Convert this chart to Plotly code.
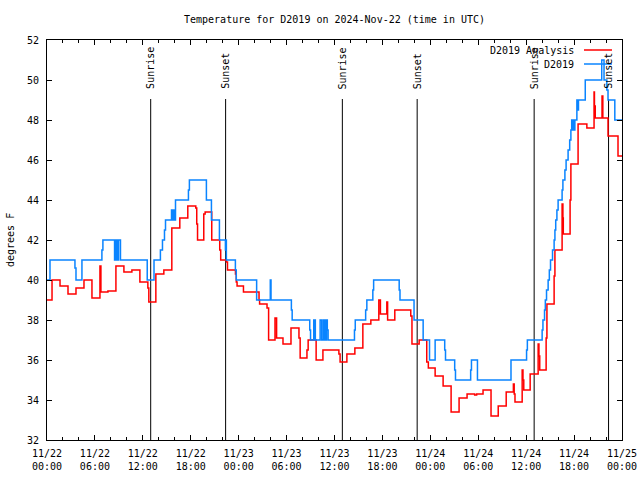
import pandas as pd
import plotly.graph_objects as go

# ---------------- data ----------------
base = pd.Timestamp("2024-11-22 00:00")

# D2019 observations (hours since 11/22 00:00 UTC, degrees F)
obs_hours = [0.0, 0.375, 3.5, 3.63, 4.375, 6.875, 7.0, 8.46, 8.63, 8.8, 8.96, 9.2,
             12.55, 13.4, 14.2, 14.46, 14.71, 14.84, 15.59, 15.7, 15.8, 15.9, 16.09,
             17.71, 17.83, 19.96, 20.59, 21.59, 22.34, 22.4, 22.46, 23.59, 23.7,
             26.25, 27.96, 28.05, 30.6, 30.7, 32.9, 33.0, 33.4, 33.5, 33.55, 33.6,
             34.2, 34.4, 34.6, 34.7, 34.8, 34.9, 35.0, 35.1, 35.2,
             38.5, 38.6, 39.9, 40.05, 40.8, 40.9, 44.1, 44.2, 45.96, 47.1, 47.9,
             48.6, 49.8, 49.9, 51.05, 51.15, 53.05, 53.15, 53.9, 58.1, 60.05, 60.15,
             62.0, 62.1, 62.3, 62.4, 62.55, 62.75, 62.9, 63.05, 63.3, 63.5, 63.6,
             63.7, 63.85, 64.0, 64.5, 64.6, 64.85, 65.0, 65.25, 65.45, 65.6, 65.7,
             65.8, 65.9, 66.0, 66.1, 66.35, 66.45, 66.55, 67.4, 69.46, 69.75, 70.1,
             70.25, 71.1, 72.0]
obs_temps = [40, 41, 40.6, 40, 41, 41.5, 42, 41, 42, 41, 42, 41,
             40, 41, 41.5, 42, 42.5, 43, 43.5, 43, 43.5, 43, 44,
             44.5, 45, 44, 43, 42, 41.5, 42, 41, 40.5, 40,
             39, 40, 39, 38.5, 38, 37.5, 37, 38, 37, 38, 37,
             38, 37, 38, 37, 38, 37, 38, 37.5, 37,
             37.5, 38, 38.5, 39, 39.5, 40, 39.5, 39, 38, 37, 36,
             37, 36.5, 36, 35.5, 35, 35.5, 36, 35, 36, 36.5, 37,
             37.5, 38, 38.5, 39, 39.5, 40, 40.5, 41, 41.5, 42, 42.5,
             43, 43.5, 44, 44.5, 45, 45.5, 46, 46.5, 47, 47.5, 48,
             47.5, 48, 47.5, 48, 49, 48.5, 49, 50, 51, 50, 49.5,
             49, 48, 48]

# D2019 Analysis (hours since 11/22 00:00 UTC, degrees F)
ana_hours = [0.0, 0.63, 1.63, 2.63, 3.63, 4.63, 5.63, 6.63, 6.75, 7.63, 8.63, 9.63,
             10.63, 11.63, 12.63, 12.75, 13.63, 14.63, 15.63, 16.63, 17.63, 18.63,
             18.75, 18.85, 19.63, 19.8, 20.63, 21.63, 21.75, 22.46, 22.6, 23.6, 23.7,
             23.8, 24.6, 26.55, 26.62, 27.55, 27.75, 28.55, 28.75, 29.55, 30.55,
             31.55, 31.7, 32.55, 32.7, 33.7, 34.55, 36.55, 36.7, 37.55, 38.55,
             39.55, 40.55, 41.55, 41.75, 42.55, 42.65, 43.55, 45.55, 45.7, 46.6,
             47.55, 47.75, 48.6, 49.6, 50.6, 51.6, 52.6, 53.55, 53.8, 54.6, 55.6,
             56.5, 57.5, 58.4, 58.5, 58.6, 59.5, 59.6, 59.7, 60.5, 61.5, 61.6,
             61.7, 62.5, 62.6, 63.5, 63.6, 64.5, 64.6, 64.65, 65.5, 65.6, 66.5,
             67.6, 68.5, 68.55, 68.65, 69.5, 69.6, 70.25, 71.5, 72.0]
ana_temps = [39.0, 40.0, 39.7, 39.3, 39.6, 40.0, 39.1, 40.7, 39.4, 39.45, 40.7, 40.4,
             40.5, 39.9, 39.6, 38.9, 40.3, 40.5, 42.6, 43.1, 43.7, 43.6,
             42.8, 42.0, 43.3, 43.4, 42.0, 41.5, 41.0, 40.9, 40.5, 40.3, 39.9,
             39.7, 39.4, 39.0, 38.8, 38.6, 37.0, 38.1, 37.1, 36.8, 37.6,
             37.1, 36.1, 36.5, 37.0, 36.0, 36.5, 36.3, 35.9, 36.3, 36.6,
             37.8, 38.0, 39.0, 38.3, 38.9, 38.0, 38.5, 38.2, 36.8, 37.0,
             35.9, 35.6, 35.2, 34.7, 33.4, 34.1, 34.3, 34.25, 34.3, 34.5, 33.2,
             33.7, 34.4, 34.8, 34.3, 33.9, 35.5, 35.0, 34.5, 35.3, 36.8, 36.2,
             35.5, 37.1, 38.8, 40.2, 41.5, 43.8, 43.1, 42.3, 44.0, 45.8, 47.8,
             47.6, 49.4, 48.7, 48.1, 49.2, 48.1, 47.2, 46.2, 46.2]

sun_labels = ["Sunrise", "Sunset", "Sunrise", "Sunset", "Sunrise", "Sunset"]
sun_times = ["2024-11-22 12:59", "2024-11-22 22:22", "2024-11-23 12:59",
             "2024-11-23 22:21", "2024-11-24 13:00", "2024-11-24 22:19"]

tick_times = pd.date_range("2024-11-22 00:00", "2024-11-25 00:00", freq="6h")
tick_text = [t.strftime("%m/%d") + "<br>" + t.strftime("%H:%M") for t in tick_times]
y_ticks = list(range(32, 53, 2))

title_text = "Temperature for D2019 on 2024-Nov-22 (time in UTC)"
legend_names = ["D2019 Analysis", "D2019"]
colors = ["#ff0000", "#0a84ff"]

# ---------------- figure ----------------
FONT = "DejaVu Sans Mono"
ana_x = base + pd.to_timedelta(ana_hours, unit="h")
obs_x = base + pd.to_timedelta(obs_hours, unit="h")

fig = go.Figure()
fig.add_trace(go.Scatter(x=ana_x, y=ana_temps, mode="lines", line_shape="hv",
                         line=dict(color=colors[0], width=1.5), name=legend_names[0]))
fig.add_trace(go.Scatter(x=obs_x, y=obs_temps, mode="lines", line_shape="hv",
                         line=dict(color=colors[1], width=1.5), name=legend_names[1]))

shapes = []
annotations = []
for lab, t in zip(sun_labels, sun_times):
    shapes.append(dict(type="line", xref="x", yref="paper", x0=t, x1=t, y0=0, y1=0.8525,
                       line=dict(color="black", width=1), layer="below"))
    annotations.append(dict(xref="x", yref="paper", x=t, y=0.872, text=lab, textangle=-90,
                            showarrow=False, xanchor="center", yanchor="bottom",
                            font=dict(family=FONT, size=10, color="black")))

# legend (gnuplot style: text then sample line on the right)
leg_y = [0.975, 0.94]
for name, c, yy in zip(legend_names, colors, leg_y):
    annotations.append(dict(xref="paper", yref="paper", x=0.92, y=yy, text=name,
                            showarrow=False, xanchor="right", yanchor="middle",
                            font=dict(family=FONT, size=10, color="black")))
    shapes.append(dict(type="line", xref="paper", yref="paper", x0=0.9339, x1=0.9826,
                       y0=yy, y1=yy, line=dict(color=c, width=1.5)))

annotations.append(dict(xref="paper", yref="paper", x=-0.0643, y=0.5, text="degrees F",
                        textangle=-90, showarrow=False, xanchor="center", yanchor="middle",
                        font=dict(family=FONT, size=10, color="black")))

fig.update_layout(
    width=640, height=480,
    margin=dict(l=47, r=18, t=40, b=40, autoexpand=False),
    paper_bgcolor="white", plot_bgcolor="white",
    showlegend=False, hovermode=False,
    font=dict(family=FONT, size=10, color="black"),
    title=dict(text=title_text, x=0.5, xref="paper", y=1 - 19 / 480, yref="container",
               xanchor="center", yanchor="middle",
               font=dict(family=FONT, size=10, color="black")),
    shapes=shapes, annotations=annotations,
)
fig.update_xaxes(type="date", range=[tick_times[0], tick_times[-1]],
                 tickvals=tick_times, ticktext=tick_text,
                 ticks="inside", ticklen=5, tickcolor="black", tickwidth=1,
                 minor=dict(dtick=2 * 3600 * 1000, ticks="inside", ticklen=3,
                            tickcolor="black", showgrid=False),
                 showline=True, linecolor="black", linewidth=1, mirror="ticks",
                 showgrid=False, zeroline=False, ticklabelstandoff=4, automargin=False)
fig.update_yaxes(range=[32, 52], tickvals=y_ticks, ticktext=[str(v) for v in y_ticks],
                 ticks="inside", ticklen=5, tickcolor="black", tickwidth=1,
                 showline=True, linecolor="black", linewidth=1, mirror="ticks",
                 showgrid=False, zeroline=False, ticklabelstandoff=5, automargin=False)

fig.write_html("out.html", config={"displayModeBar": False, "staticPlot": True},
               post_script="document.body.style.margin='0';document.body.style.overflow='hidden';")
